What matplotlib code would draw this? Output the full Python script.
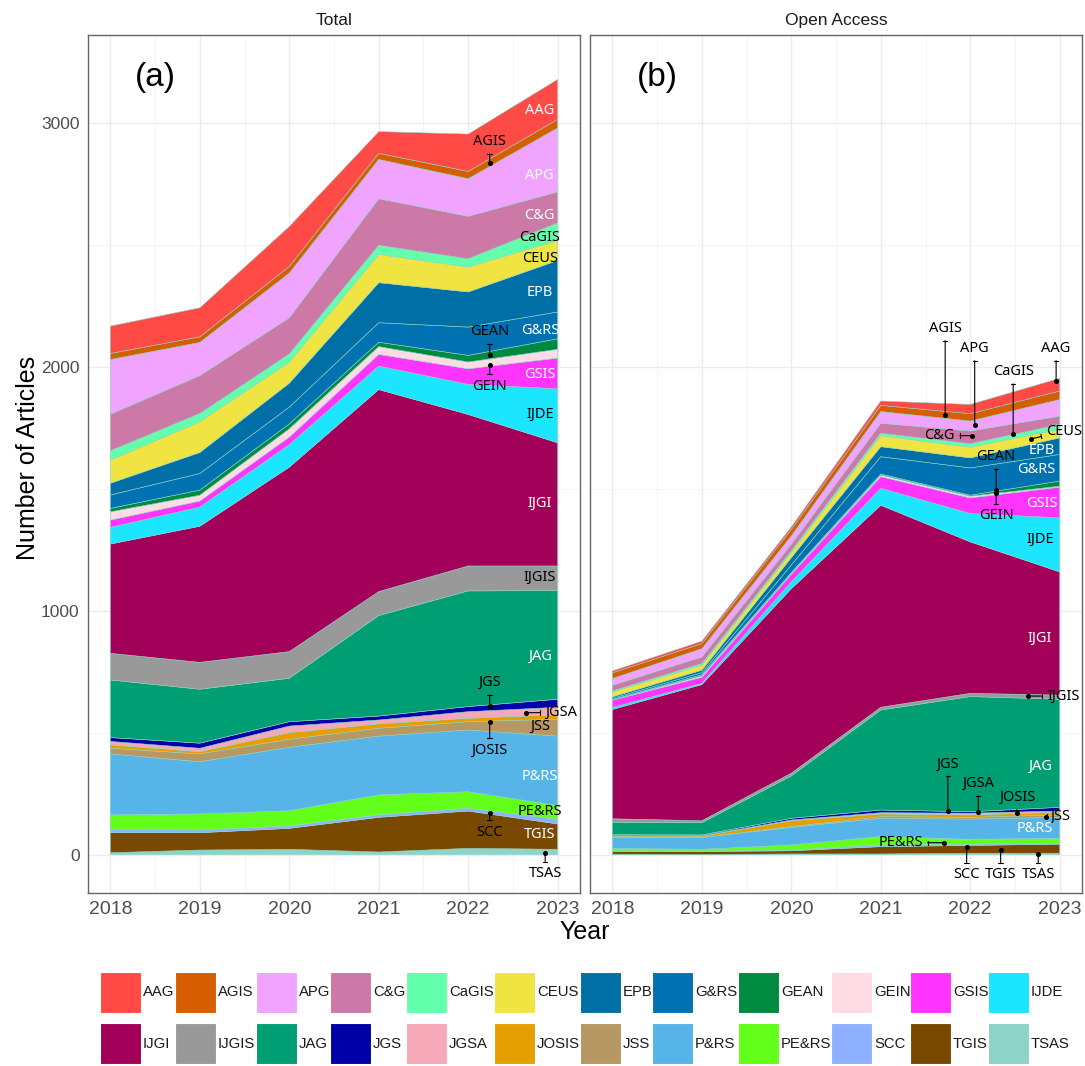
import matplotlib
matplotlib.use('Agg')
import matplotlib.pyplot as plt
from matplotlib.patches import Rectangle
from matplotlib.ticker import MultipleLocator

# --- Data (articles per journal and year) ---
years = [2018, 2019, 2020, 2021, 2022, 2023]
journals = ['AAG', 'AGIS', 'APG', 'C&G', 'CaGIS', 'CEUS', 'EPB', 'G&RS', 'GEAN', 'GEIN', 'GSIS', 'IJDE',
            'IJGI', 'IJGIS', 'JAG', 'JGS', 'JGSA', 'JOSIS', 'JSS', 'P&RS', 'PE&RS', 'SCC', 'TGIS', 'TSAS']
colors = ['#FF4A46', '#D55E00', '#F0A3FF', '#CC79A7', '#63FFAC', '#F0E442', '#006FA6', '#0072B2',
          '#008941', '#FFDBE5', '#FF34FF', '#1CE6FF', '#A30059', '#999999', '#009E73', '#0000A6',
          '#F5A8B8', '#E69F00', '#B79762', '#56B4E9', '#63FF1A', '#8FB0FF', '#7A4900', '#8DD3C7']

total = {
    'AAG':   [112, 119, 164, 89, 153, 164],
    'AGIS':  [25, 23, 27, 25, 30, 35],
    'APG':   [224, 136, 183, 161, 154, 262],
    'C&G':   [150, 155, 148, 191, 174, 127],
    'CaGIS': [38, 34, 34, 37, 34, 72],
    'CEUS':  [95, 126, 86, 116, 102, 82],
    'EPB':   [48, 86, 98, 164, 144, 211],
    'G&RS':  [55, 68, 69, 80, 116, 110],
    'GEAN':  [14, 21, 20, 18, 27, 43],
    'GEIN':  [34, 24, 34, 32, 28, 36],
    'GSIS':  [30, 25, 31, 48, 64, 126],
    'IJDE':  [68, 78, 92, 96, 123, 221],
    'IJGI':  [448, 558, 756, 828, 621, 505],
    'IJGIS': [109, 110, 109, 98, 102, 101],
    'JAG':   [236, 221, 178, 412, 474, 445],
    'JGS':   [16, 21, 18, 16, 21, 33],
    'JGSA':  [14, 14, 27, 16, 27, 31],
    'JOSIS': [14, 9, 27, 18, 14, 18],
    'JSS':   [23, 32, 33, 32, 34, 69],
    'P&RS':  [250, 214, 260, 241, 253, 285],
    'PE&RS': [59, 66, 62, 82, 68, 56],
    'SCC':   [14, 11, 10, 10, 11, 19],
    'TGIS':  [82, 71, 86, 142, 153, 104],
    'TSAS':  [8, 19, 22, 11, 26, 22],
}
open_access = {
    'AAG':   [8, 10, 10, 18, 38, 52],
    'AGIS':  [23, 21, 27, 25, 30, 35],
    'APG':   [28, 34, 34, 48, 41, 68],
    'C&G':   [23, 27, 27, 41, 52, 34],
    'CaGIS': [4, 7, 7, 10, 14, 20],
    'CEUS':  [20, 20, 21, 45, 44, 35],
    'EPB':   [6, 10, 30, 41, 41, 68],
    'G&RS':  [5, 8, 31, 71, 112, 109],
    'GEAN':  [1, 5, 3, 4, 4, 21],
    'GEIN':  [2, 6, 4, 7, 7, 4],
    'GSIS':  [30, 25, 31, 48, 64, 126],
    'IJDE':  [8, 5, 28, 69, 116, 221],
    'IJGI':  [448, 558, 756, 828, 621, 505],
    'IJGIS': [14, 8, 11, 11, 13, 17],
    'JAG':   [51, 50, 174, 410, 472, 443],
    'JGS':   [3, 3, 7, 11, 6, 15],
    'JGSA':  [2, 2, 3, 5, 7, 5],
    'JOSIS': [4, 5, 24, 11, 10, 11],
    'JSS':   [2, 0, 3, 7, 7, 10],
    'P&RS':  [45, 49, 72, 75, 83, 86],
    'PE&RS': [10, 7, 21, 34, 20, 20],
    'SCC':   [2, 2, 3, 7, 5, 4],
    'TGIS':  [12, 12, 13, 30, 32, 37],
    'TSAS':  [2, 1, 3, 3, 6, 6],
}

# --- Label placement: (text, label x, label y, colour, target x, target y) ---
labels_total = [
    ('AAG', 2022.8, 3049, 'white', None, None),
    ('AGIS', 2022.24, 2922, 'black', 2022.24, 2834),
    ('APG', 2022.8, 2783, 'white', None, None),
    ('C&G', 2022.8, 2619, 'white', None, None),
    ('CaGIS', 2022.8, 2530, 'black', None, None),
    ('CEUS', 2022.8, 2445, 'black', None, None),
    ('EPB', 2022.8, 2303, 'white', None, None),
    ('G&RS', 2022.8, 2146, 'white', None, None),
    ('GEAN', 2022.24, 2143, 'black', 2022.24, 2048),
    ('GEIN', 2022.24, 1918, 'black', 2022.24, 2007),
    ('GSIS', 2022.8, 1966, 'white', None, None),
    ('IJDE', 2022.8, 1806, 'black', None, None),
    ('IJGI', 2022.8, 1440, 'white', None, None),
    ('IJGIS', 2022.8, 1135, 'black', None, None),
    ('JAG', 2022.8, 814, 'white', None, None),
    ('JGS', 2022.24, 705, 'black', 2022.24, 609),
    ('JGSA', 2023.04, 582, 'black', 2022.65, 582),
    ('JSS', 2022.8, 527, 'black', None, None),
    ('JOSIS', 2022.24, 426, 'black', 2022.24, 545),
    ('P&RS', 2022.8, 322, 'white', None, None),
    ('PE&RS', 2022.8, 176, 'black', None, None),
    ('SCC', 2022.24, 90, 'black', 2022.24, 170),
    ('TGIS', 2022.8, 84, 'white', None, None),
    ('TSAS', 2022.86, -79, 'black', 2022.86, 5),
]
labels_oa = [
    ('AAG', 2022.96, 2075, 'black', 2022.96, 1939),
    ('AGIS', 2021.72, 2157, 'black', 2021.72, 1802),
    ('APG', 2022.05, 2075, 'black', 2022.05, 1761),
    ('C&G', 2021.66, 1717, 'black', 2022.02, 1717),
    ('CaGIS', 2022.48, 1980, 'black', 2022.48, 1724),
    ('CEUS', 2023.05, 1734, 'black', 2022.68, 1704),
    ('EPB', 2022.8, 1656, 'white', None, None),
    ('GEAN', 2022.29, 1631, 'black', 2022.29, 1495),
    ('G&RS', 2022.74, 1579, 'white', None, None),
    ('GSIS', 2022.8, 1440, 'white', None, None),
    ('GEIN', 2022.29, 1388, 'black', 2022.29, 1481),
    ('IJDE', 2022.78, 1293, 'black', None, None),
    ('IJGI', 2022.78, 887, 'white', None, None),
    ('IJGIS', 2023.04, 650, 'black', 2022.65, 650),
    ('JAG', 2022.78, 361, 'white', None, None),
    ('JGS', 2021.75, 372, 'black', 2021.75, 180),
    ('JGSA', 2022.09, 292, 'black', 2022.09, 176),
    ('JOSIS', 2022.52, 235, 'black', 2022.52, 170),
    ('JSS', 2023.0, 156, 'black', 2022.85, 156),
    ('P&RS', 2022.72, 108, 'white', None, None),
    ('PE&RS', 2021.22, 49, 'black', 2021.71, 49),
    ('SCC', 2021.96, -83, 'black', 2021.96, 33),
    ('TGIS', 2022.34, -83, 'black', 2022.34, 19),
    ('TSAS', 2022.76, -83, 'black', 2022.76, 3),
]

W, H = 1085, 1066
TICK_COLOR = '#4d4d4d'
GRID_COLOR = '#ebebeb'
SANS = ['Liberation Sans', 'DejaVu Sans']
LABEL_FONT = ['Noto Sans', 'DejaVu Sans']


def setup_style(ax):
    for s in ax.spines.values():
        s.set_color('#666666')
        s.set_linewidth(1.0)
    ax.set_xlim(2017.75, 2023.25)
    ax.set_ylim(-157, 3359)
    ax.xaxis.set_major_locator(MultipleLocator(1))
    ax.xaxis.set_minor_locator(MultipleLocator(0.5))
    ax.yaxis.set_major_locator(MultipleLocator(1000))
    ax.yaxis.set_minor_locator(MultipleLocator(500))
    ax.grid(which='major', color=GRID_COLOR, linewidth=1.0)
    ax.grid(which='minor', color='#f3f3f3', linewidth=0.6)
    ax.set_axisbelow(True)
    ax.tick_params(which='both', length=0, colors=TICK_COLOR, pad=6)
    ax.tick_params(axis='x', labelsize=14)
    ax.tick_params(axis='y', labelsize=12.5)
    for t in ax.get_xticklabels() + ax.get_yticklabels():
        t.set_family(SANS)


def draw_panel(ax, data, labels, title, tag):
    stack_order = journals[::-1]
    fills = [colors[journals.index(j)] for j in stack_order]
    ax.stackplot(years, *[data[j] for j in stack_order], colors=fills,
                 linewidth=0.4, edgecolors=fills)
    ax.set_title(title, fontsize=12.5, color='#1a1a1a', pad=7, family=SANS)
    ax.text(0.136, 0.951, tag, transform=ax.transAxes, ha='center', va='center',
            fontsize=24, color='black', family=SANS)
    for name, lx, ly, col, tx, ty in labels:
        if tx is None:
            ax.text(lx, ly, name, ha='center', va='center', fontsize=10.5,
                    color=col, family=LABEL_FONT)
        else:
            ax.annotate(name, xy=(tx, ty), xytext=(lx, ly), ha='center', va='center',
                        fontsize=10.5, color=col, family=LABEL_FONT,
                        arrowprops=dict(arrowstyle='|-|,widthA=0.15,widthB=0.0', color='black',
                                        lw=0.8, shrinkA=1.5, shrinkB=0))
            ax.plot([tx], [ty], 'o', color='black', markersize=2.6, zorder=5)


fig = plt.figure(figsize=(W / 100, H / 100), dpi=100)
ax_a = fig.add_axes([0.0811, 0.1623, 0.4535, 0.8049])
ax_b = fig.add_axes([0.5438, 0.1623, 0.4535, 0.8049])

draw_panel(ax_a, total, labels_total, 'Total', '(a)')
draw_panel(ax_b, open_access, labels_oa, 'Open Access', '(b)')
setup_style(ax_a)
setup_style(ax_b)
ax_b.set_yticklabels([])

fig.text(28 / W, 1 - 458 / H, 'Number of Articles', rotation=90, ha='center', va='center',
         fontsize=18, family=SANS)
fig.text(585 / W, 1 - 932 / H, 'Year', ha='center', va='center', fontsize=18, family=SANS)

# --- Legend: 2 rows x 12 columns, drawn by hand (ggplot-like big keys) ---
col_left = [100, 175, 256, 330, 406, 494, 580, 652, 738, 831, 910, 988]
row_top = [972, 1023]
key_w, key_h = 41, 41
for k, (name, col) in enumerate(zip(journals, colors)):
    r, c = divmod(k, 12)
    x0, y0 = col_left[c], row_top[r]
    fig.add_artist(Rectangle((x0 / W, 1 - (y0 + key_h) / H), key_w / W, key_h / H,
                             transform=fig.transFigure, facecolor=col,
                             edgecolor='white', linewidth=0.8))
    fig.text((x0 + key_w + 2) / W, 1 - (y0 + key_h / 2) / H, name, ha='left', va='center',
             fontsize=10.7, family=SANS, color='#1a1a1a')

fig.savefig('out.png', dpi=100, facecolor='white')
